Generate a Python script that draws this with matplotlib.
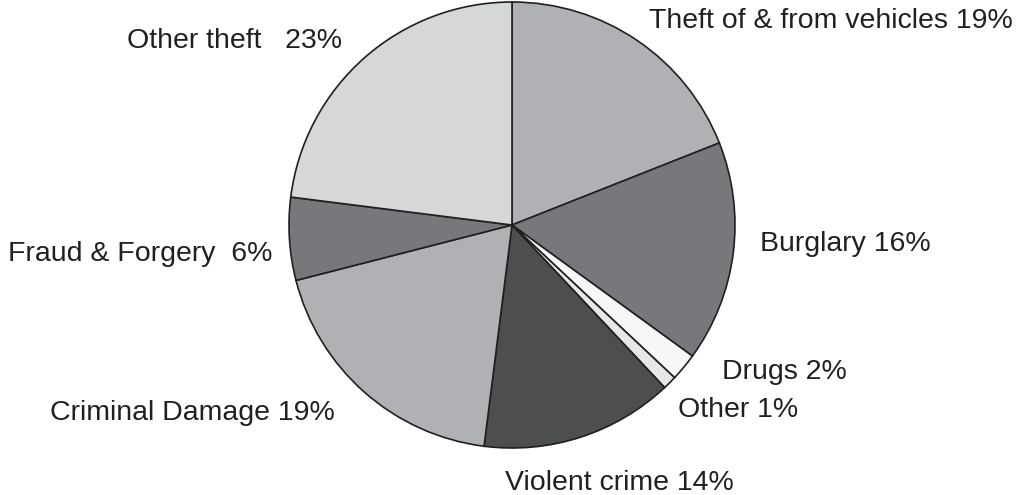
import matplotlib.pyplot as plt

categories = ["Theft of & from vehicles", "Burglary", "Drugs", "Other",
              "Violent crime", "Criminal Damage", "Fraud & Forgery", "Other theft"]
shares = [19, 16, 2, 1, 14, 19, 6, 23]
label_texts = ["Theft of & from vehicles 19%", "Burglary 16%", "Drugs 2%", "Other 1%",
               "Violent crime 14%", "Criminal Damage 19%", "Fraud & Forgery  6%", "Other theft   23%"]

colors = ["#b0b1b4", "#77787b", "#f7f7f7", "#e6e7e8",
          "#4d4e50", "#b0b1b4", "#77787b", "#d6d7d9"]
# left edge x, baseline y in pixels from the top
label_pos = [(649, 28), (760, 251), (722, 379), (678, 417),
             (505, 490), (50, 420), (8, 261), (127, 48)]

W, H = 1019, 495
fig = plt.figure(figsize=(W / 100, H / 100), dpi=100)
ax = fig.add_axes([0, 0, 1, 1])

ax.pie(shares, colors=colors, startangle=90, counterclock=False,
       center=(512, H - 225), radius=223, frame=True,
       wedgeprops=dict(edgecolor="#231f20", linewidth=1.2))
ax.set_xlim(0, W)
ax.set_ylim(0, H)
ax.set_aspect("equal")
ax.axis("off")

for txt, (x, y) in zip(label_texts, label_pos):
    ax.text(x, H - y, txt, ha="left", va="baseline", fontsize=20.5,
            family="Liberation Sans", color="#231f20")

fig.savefig("out.png", dpi=100)
